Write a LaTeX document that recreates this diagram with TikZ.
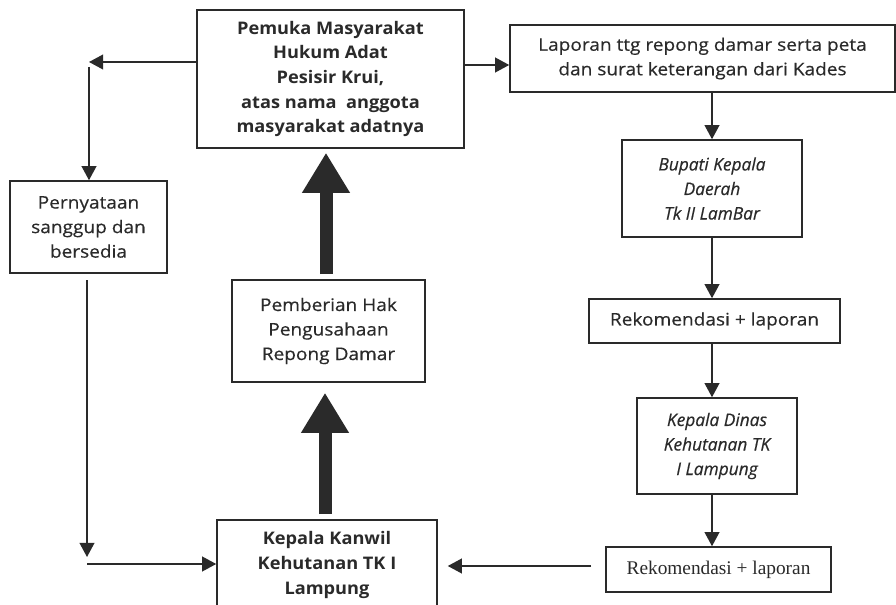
\documentclass[tikz,border=0pt]{standalone}
\usepackage{fontspec}
\setmainfont{Open Sans}
\newfontfamily\regf{Open Sans}[FakeStretch=1.1, FakeBold=0.4]
\newfontfamily\boldf{Open Sans}[FakeStretch=1.05]
\newfontfamily\itf{Open Sans}[FakeBold=0.4]
\newfontfamily\timesfont{Liberation Serif}
\usetikzlibrary{arrows.meta}
\definecolor{ink}{HTML}{2A2A2A}
\tikzset{
  box/.style={draw=ink, line width=1.15pt, inner sep=0pt, align=center, text=ink,
    font=\regf\fontsize{13}{18.4}\selectfont},
  boldbox/.style={box, font=\boldf\fontsize{13}{18.4}\selectfont\bfseries},
  itbox/.style={box, font=\itf\fontsize{13}{18.4}\selectfont\itshape},
  arr/.style={draw=ink, line width=1.15pt, -{Triangle[length=10.5pt,width=11pt]}},
  fat/.style={draw=ink, line width=9.75pt, -{Triangle[length=30pt,width=33.75pt]}}
}
\begin{document}
\begin{tikzpicture}[x=0.75pt,y=-0.75pt]
\useasboundingbox (0,0) rectangle (896,605);
\fill[white] (0,0) rectangle (896,605);
% boxes
\node[boldbox, minimum width=200.25pt, minimum height=103.5pt] (top) at (330.5,79)
  {Pemuka Masyarakat\\Hukum Adat\\Pesisir Krui,\\atas nama\ \ anggota\\masyarakat adatnya};
\node[box, minimum width=117.75pt, minimum height=69pt] (pern) at (88.5,227)
  {Pernyataan\\sanggup dan\\bersedia};
\node[box, minimum width=288.75pt, minimum height=50.25pt] (lap) at (702.5,58.5)
  {Laporan ttg repong damar serta peta\\dan surat keterangan dari Kades};
\node[itbox, minimum width=135pt, minimum height=72.75pt] (bup) at (712,188.5)
  {Bupati Kepala\\Daerah\\Tk II LamBar};
\node[box, minimum width=188.25pt, minimum height=33pt] (rek1) at (714.5,321)
  {Rekomendasi + laporan};
\node[itbox, minimum width=120pt, minimum height=72pt] (din) at (717,446)
  {Kepala Dinas\\Kehutanan TK\\I Lampung};
\node[box, minimum width=168.75pt, minimum height=33.75pt, font=\timesfont\fontsize{14.5}{16}\selectfont] (rek2) at (718.5,569.5)
  {Rekomendasi + laporan};
\node[box, minimum width=144.75pt, minimum height=76.5pt] (pem) at (328.5,331)
  {Pemberian Hak\\Pengusahaan\\Repong Damar};
\node[boldbox, minimum width=165pt, minimum height=67.5pt] (kan) at (327,565)
  {Kepala Kanwil\\Kehutanan TK I\\Lampung};
% coordinates
\coordinate (la) at (89,62);
\coordinate (lb) at (89,67);
\coordinate (ra) at (464,65);
\coordinate (rb) at (591,566);
\coordinate (pb) at (87,557);
\coordinate (pc) at (87,564);
\coordinate (fa) at (326,0);
\coordinate (fb) at (325,0);
% thin connectors
\draw[arr] (top.west |- la) -- (la);
\draw[arr] (lb) -- (lb |- pern.north);
\draw[arr] (top.east |- ra) -- (lap.west |- ra);
\draw[arr] (bup.north |- lap.south) -- (bup.north);
\draw[arr] (bup.south) -- (bup.south |- rek1.north);
\draw[arr] (rek1.south -| bup.south) -- (din.north -| bup.south);
\draw[arr] (din.south -| bup.south) -- (rek2.north -| bup.south);
\draw[arr, shorten >=7.5pt] (rb) -- (kan.east |- rb);
\draw[arr, shorten <=5pt] (pern.south -| pb) -- (pb);
\draw[arr] (pc) -- (kan.west |- pc);
% thick connectors
\draw[fat, shorten <=3.75pt, shorten >=3pt] (pem.north -| fa) -- (top.south -| fa);
\draw[fat, shorten <=3.75pt, shorten >=7.5pt] (kan.north -| fb) -- (pem.south -| fb);
\end{tikzpicture}
\end{document}
